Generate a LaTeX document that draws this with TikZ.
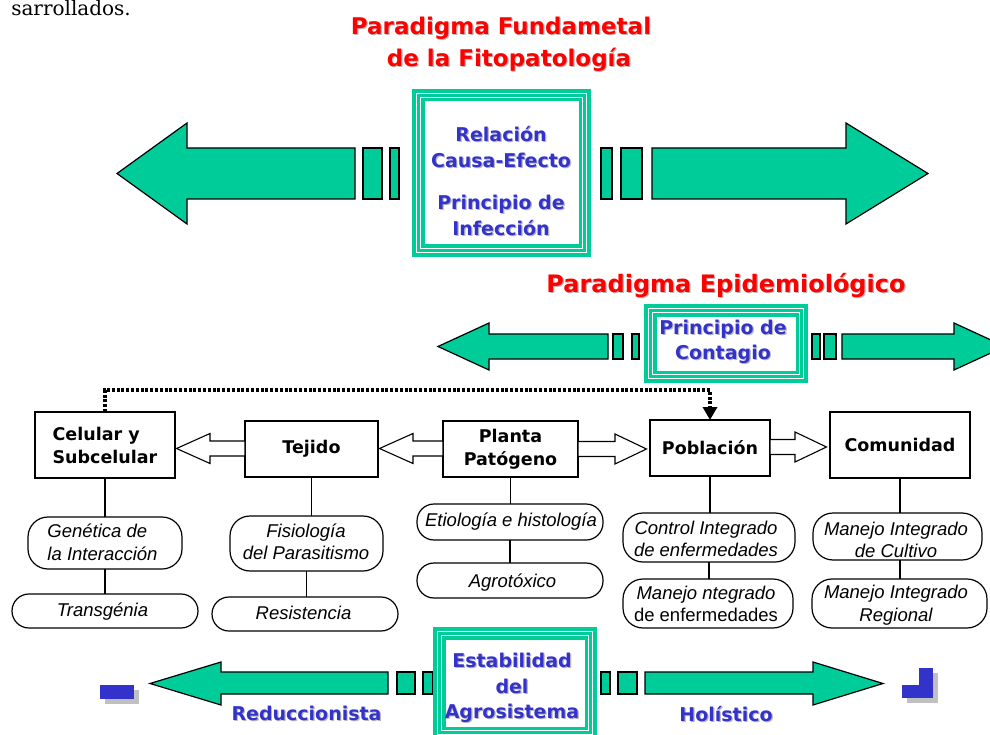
\documentclass[tikz,border=0pt]{standalone}
\usepackage{fontspec}
\usetikzlibrary{calc,arrows.meta}
\newfontfamily\dvs{DejaVu Sans}
\newfontfamily\lsans{Liberation Sans}
\newfontfamily\dserif{DejaVu Serif}
\definecolor{agreen}{HTML}{00CC99}
\definecolor{tblue}{HTML}{3333CC}
\definecolor{tred}{HTML}{FF0000}
\definecolor{tshadow}{HTML}{B8B8B8}
\definecolor{sqshadow}{HTML}{C0C0C0}
\newcommand\shtxt[2]{\leavevmode\rlap{\kern1.2pt\lower1.2pt\hbox{\color{tshadow}#2}}\textcolor{#1}{#2}}
\newcommand\hollowleft[3]{%
  \draw[hollowar] let \p1=(#1.west), \p2=(#2.east), \p3=(0,#3) in
    (\x2+1.5pt,\y3) -- (\x2+35pt,\y3+15pt) -- (\x2+35pt,\y3+7.5pt) -- (\x1,\y3+7.5pt)
    -- (\x1,\y3-7.5pt) -- (\x2+35pt,\y3-7.5pt) -- (\x2+35pt,\y3-15pt) -- cycle;}
\newcommand\hollowright[3]{%
  \draw[hollowar] let \p1=(#1.east), \p2=(#2.west), \p3=(0,#3) in
    (\x2-3.5pt,\y3) -- (\x2-35pt,\y3+15pt) -- (\x2-35pt,\y3+7.5pt) -- (\x1,\y3+7.5pt)
    -- (\x1,\y3-7.5pt) -- (\x2-35pt,\y3-7.5pt) -- (\x2-35pt,\y3-15pt) -- cycle;}
\begin{document}
\begin{tikzpicture}[x=1pt,y=-1pt,
  garrow/.style={fill=agreen, draw=black, line width=1.2pt, line join=miter},
  gbox/.style={fill=agreen, inner sep=0pt, outer sep=0pt, path picture={
     \fill[white] ($(path picture bounding box.south west)+(12.5pt,12.5pt)$) rectangle ($(path picture bounding box.north east)+(-12.5pt,-12.5pt)$);
     \draw[white,line width=1.1pt] ($(path picture bounding box.south west)+(4.5pt,4.5pt)$) rectangle ($(path picture bounding box.north east)+(-4.5pt,-4.5pt)$);
     \draw[white,line width=1pt] ($(path picture bounding box.south west)+(8.7pt,8.7pt)$) rectangle ($(path picture bounding box.north east)+(-8.7pt,-8.7pt)$);
  }},
  hollowar/.style={draw=black, fill=white, line width=1.1pt, line join=miter},
  lbox/.style={draw=black, line width=1.2pt, fill=white, inner sep=0pt, outer sep=0pt,
     font=\dvs\bfseries\fontsize{17.5}{23}\selectfont},
  pill/.style={draw=black, line width=1.2pt, fill=white, inner sep=0pt, outer sep=0pt, rounded corners=#1},
  pill/.default=17pt,
  itxt/.style={inner sep=0pt, align=center, font=\lsans\itshape\fontsize{18.5}{22.5}\selectfont},
  btxt/.style={inner sep=0pt, align=center, font=\dvs\bfseries\fontsize{19}{25.8}\selectfont},
  headtxt/.style={inner sep=0pt, align=center, font=\dvs\bfseries\fontsize{23}{31.5}\selectfont},
  conn/.style={draw=black, line width=1.1pt},
  dotconn/.style={draw=black, line width=3.2pt, dash pattern=on 3pt off 1.8pt, -{Triangle[length=13pt,width=14pt]}},
  blsq/.style={fill=tblue},
  grsq/.style={fill=sqshadow}
]
\useasboundingbox (0,0) rectangle (990,735);
\clip (0,0) rectangle (990,735);
\fill[white] (0,0) rectangle (990,735);

% fragment of text at the top-left corner
\node[anchor=base east, inner sep=0pt, font=\dserif\fontsize{20}{24}\selectfont] (frag) at (131,15.5) {sarrollados.};

% headings
\node[headtxt] (h1) at (501,44.7) {\shtxt{tred}{Paradigma Fundametal}\\\hspace*{16pt}\shtxt{tred}{de la Fitopatología}};
\node[headtxt, anchor=base, font=\dvs\bfseries\fontsize{24}{30}\selectfont] (h2) at (726,292) {\shtxt{tred}{Paradigma Epidemiológico}};

% top green arrows
\draw[garrow] (117,173.5) -- (187,123) -- (187,148) -- (355,148) -- (355,199) -- (187,199) -- (187,224) -- cycle;
\draw[garrow] (363,148) rectangle (382,199);
\draw[garrow] (390,148) rectangle (399,199);
\draw[garrow] (601,148) rectangle (612,199);
\draw[garrow] (621,148) rectangle (642,199);
\draw[garrow] (652,148) -- (846,148) -- (846,123) -- (928,173.5) -- (846,224) -- (846,199) -- (652,199) -- cycle;

% middle green arrows
\draw[garrow] (438,346.5) -- (489,323) -- (489,334) -- (608,334) -- (608,359) -- (489,359) -- (489,370) -- cycle;
\draw[garrow] (613,334) rectangle (623,359);
\draw[garrow] (632,334) rectangle (639,359);
\draw[garrow] (812,334) rectangle (820,359);
\draw[garrow] (824,334) rectangle (836,359);
\draw[garrow] (842,334) -- (954,334) -- (954,323) -- (1005,346.5) -- (954,370) -- (954,359) -- (842,359) -- cycle;

% bottom green arrows
\draw[garrow] (150,683.5) -- (221,662) -- (221,672) -- (388,672) -- (388,694) -- (221,694) -- (221,705) -- cycle;
\draw[garrow] (397,672) rectangle (415,694);
\draw[garrow] (423,672) rectangle (433,694);
\draw[garrow] (601,672) rectangle (610,694);
\draw[garrow] (618,672) rectangle (637,694);
\draw[garrow] (645,672) -- (813,672) -- (813,662) -- (883,683.5) -- (813,705) -- (813,694) -- (645,694) -- cycle;

% green framed boxes
\node[gbox, minimum width=179pt, minimum height=168pt] (fbox) at (501.5,173) {};
\node[btxt] (ftxt) at (501,181.6) {\shtxt{tblue}{Relación}\\\shtxt{tblue}{Causa-Efecto}\\[16.5pt]\shtxt{tblue}{Principio de}\\\shtxt{tblue}{Infección}};
\node[gbox, minimum width=164pt, minimum height=79pt] (ebox) at (726,343.5) {};
\node[btxt, font=\dvs\bfseries\fontsize{19}{25}\selectfont] (etxt) at (723,342.6) {\shtxt{tblue}{Principio de}\\\shtxt{tblue}{Contagio}};
\node[gbox, minimum width=164pt, minimum height=112pt] (sbox) at (515,683) {};
\node[btxt, font=\dvs\bfseries\fontsize{19}{25.5}\selectfont] (stxt) at (512,688.5) {\shtxt{tblue}{Estabilidad}\\\shtxt{tblue}{del}\\\shtxt{tblue}{Agrosistema}};

% bottom labels
\node[btxt, anchor=base] (redu) at (306.5,720) {\shtxt{tblue}{Reduccionista}};
\node[btxt, anchor=base] (holi) at (726,721) {\shtxt{tblue}{Holístico}};

% blue squares
\fill[grsq] (105,690) rectangle (139,704);
\fill[blsq] (100,685) rectangle (134,699);
\fill[grsq] (924,673) rectangle (938,703);
\fill[grsq] (907,690) rectangle (938,703);
\fill[blsq] (919,668) rectangle (933,698);
\fill[blsq] (902,685) rectangle (933,698);

% level boxes
\node[lbox, minimum width=140pt, minimum height=66pt, align=left] (cel) at (105,445) {Celular y\\Subcelular};
\node[lbox, minimum width=133pt, minimum height=56pt] (tej) at (311.5,449) {Tejido};
\node[lbox, line width=2.2pt, minimum width=135pt, minimum height=56pt, align=center] (pla) at (510.5,449) {Planta\\Patógeno};
\node[lbox, minimum width=120pt, minimum height=56pt] (pob) at (710,448) {Población};
\node[lbox, minimum width=140pt, minimum height=66pt] (com) at (900,445) {Comunidad};

% hollow block arrows between levels
\hollowleft{tej}{cel}{448.5}
\hollowleft{pla}{tej}{448.5}
\hollowright{pla}{pob}{449}
\hollowright{pob}{com}{447}

% dotted connector
\draw[dotconn] (cel.north) -- ++(0,-22) -| (pob.north);

% pills
\node[pill=20pt, minimum width=154pt, minimum height=52pt] (p1) at (105,543) {};
\node[pill, minimum width=186pt, minimum height=34pt] (p2) at (105,611) {};
\node[pill=20pt, minimum width=153pt, minimum height=55pt] (p3) at (306.5,543.5) {};
\node[pill, minimum width=186pt, minimum height=34pt] (p4) at (305,614) {};
\node[pill, minimum width=186pt, minimum height=36pt] (p5) at (510,522) {};
\node[pill, minimum width=186pt, minimum height=35pt] (p6) at (510,580.5) {};
\node[pill=20pt, minimum width=172pt, minimum height=49pt] (p7) at (709,537.5) {};
\node[pill=20pt, minimum width=170pt, minimum height=49pt] (p8) at (708,603.5) {};
\node[pill=20pt, minimum width=169pt, minimum height=47pt] (p9) at (897.5,536.5) {};
\node[pill=20pt, minimum width=175pt, minimum height=49pt] (p10) at (899.5,603.5) {};

% pill texts
\node[itxt, align=left] (t1) at (102.5,542.3) {Genética de\\la Interacción};
\node[itxt, anchor=base] (t2) at (102.5,616) {Transgénia};
\node[itxt] (t3) at (306,542) {Fisiología\\del Parasitismo};
\node[itxt, anchor=base] (t4) at (303.5,619.5) {Resistencia};
\node[itxt, anchor=base] (t5) at (511,526.7) {Etiología e histología};
\node[itxt, anchor=base] (t6) at (512.5,587.3) {Agrotóxico};
\node[itxt] (t7) at (706,539.1) {Control Integrado\\de enfermedades};
\node[itxt] (t8) at (706,604.1) {Manejo ntegrado\\{\upshape de enfermedades}};
\node[itxt] (t9) at (896,539.9) {Manejo Integrado\\de Cultivo};
\node[itxt] (t10) at (896,605.2) {Manejo Integrado\\Regional};

% vertical connectors
\draw[conn] (cel.south) -- (cel.south |- p1.north);
\draw[conn] (p1.south) -- (p1.south |- p2.north);
\draw[conn] (tej.south) -- (tej.south |- p3.north);
\draw[conn] (p3.south) -- (p3.south |- p4.north);
\draw[conn] (pla.south) -- (pla.south |- p5.north);
\draw[conn] (p5.south) -- (p5.south |- p6.north);
\draw[conn] (pob.south) -- (pob.south |- p7.north);
\draw[conn] (p7.south) -- (p7.south |- p8.north);
\draw[conn] (com.south) -- (com.south |- p9.north);
\draw[conn] (com.south |- p9.south) -- (com.south |- p10.north);
\end{tikzpicture}
\end{document}
